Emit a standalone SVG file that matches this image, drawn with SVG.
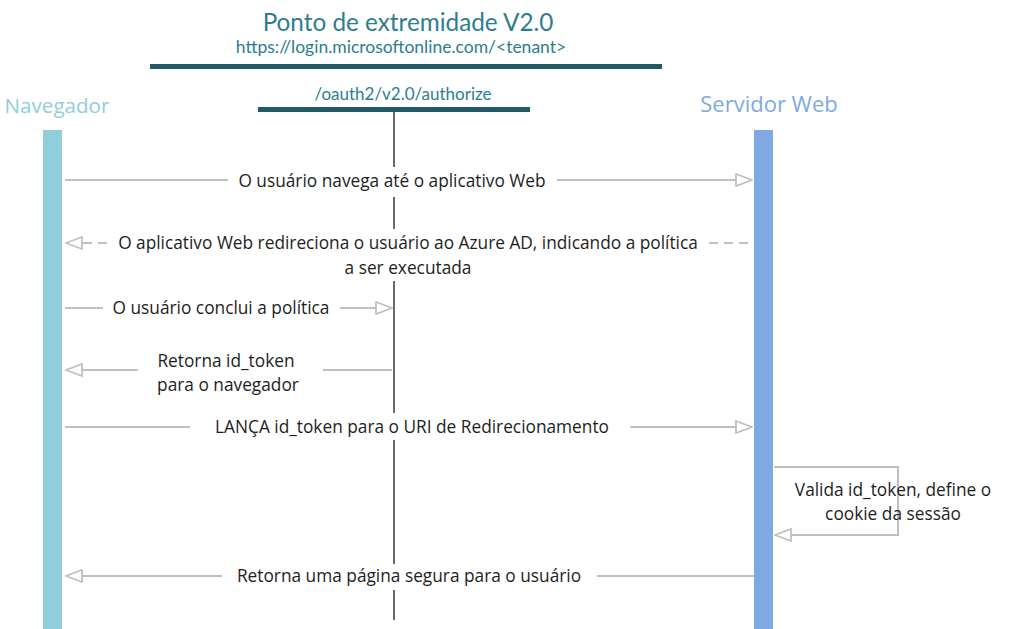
<svg xmlns="http://www.w3.org/2000/svg" width="1011" height="629" viewBox="0 0 1011 629">
<defs>
<style>
.t{font-family:"Open Sans","Noto Sans",sans-serif;font-size:17.3px;fill:#1e1e1e;text-anchor:middle}
.h{font-family:"Lato","Open Sans",sans-serif;fill:#2E7D8F;text-anchor:middle}
.c{stroke:#c0c0c0;stroke-width:2;fill:none}
.d{stroke:#c0c0c0;stroke-width:2;fill:none;stroke-dasharray:9 6}
.v{stroke:#1a1a1a;stroke-width:1.3;fill:none}
</style>
<marker id="ah" viewBox="0 0 18 14" refX="17" refY="7" markerWidth="18" markerHeight="14" markerUnits="userSpaceOnUse" orient="auto">
<path d="M1,1 L17,7 L1,13 Z" fill="#fff" stroke="#c0c0c0" stroke-width="1.8"/>
</marker>
</defs>
<rect width="1011" height="629" fill="#fff"/>
<g id="endpoint">
<text class="h" x="408" y="31" font-size="24.3">Ponto de extremidade V2.0</text>
<text class="h" x="401" y="53" font-size="17.5">https://login.microsoftonline.com/&lt;tenant&gt;</text>
<rect x="150" y="64" width="512" height="5" fill="#215967"/>
<text class="h" x="403" y="100" font-size="17">/oauth2/v2.0/authorize</text>
<rect x="258" y="107" width="272" height="5" fill="#215967"/>
<path class="v" d="M394,112 V167 M394,197 V229 M394,281 V413 M394,440 V564 M394,590 V620"/>
</g>
<g id="navegador">
<text x="57" y="113" font-family="Open Sans, sans-serif" font-size="20.6" fill="#92CDDC" text-anchor="middle">Navegador</text>
<rect x="43" y="130" width="19" height="499" fill="#92CDDC"/>
</g>
<g id="servidor">
<text x="769" y="112" font-family="Open Sans, sans-serif" font-size="22" fill="#7FA9E3" text-anchor="middle">Servidor Web</text>
<rect x="754" y="130" width="19" height="499" fill="#7FA9E3"/>
</g>
<g id="connectors">
<path class="c" d="M65,180 H228"/>
<path class="c" d="M557,180 H752" marker-end="url(#ah)"/>
<path class="d" d="M748,243 H704"/>
<path class="d" d="M107,243 H66" marker-end="url(#ah)"/>
<path class="c" d="M65,308 H103"/>
<path class="c" d="M340,308 H392" marker-end="url(#ah)"/>
<path class="c" d="M392,370 H323"/>
<path class="c" d="M138,370 H66" marker-end="url(#ah)"/>
<path class="c" d="M65,427 H190"/>
<path class="c" d="M630,427 H752" marker-end="url(#ah)"/>
<path class="c" d="M774,467 H898 V535 H775" marker-end="url(#ah)"/>
<path class="c" d="M754,576 H597"/>
<path class="c" d="M222,576 H66" marker-end="url(#ah)"/>
</g>
<g id="labels">
<text class="t" x="392" y="187">O usuário navega até o aplicativo Web</text>
<text class="t" x="408" y="249">O aplicativo Web redireciona o usuário ao Azure AD, indicando a política</text>
<text class="t" x="408" y="274">a ser executada</text>
<text class="t" x="221" y="314">O usuário conclui a política</text>
<text class="t" x="226" y="367">Retorna id_token</text>
<text class="t" x="228" y="391">para o navegador</text>
<text class="t" x="412" y="433">LANÇA id_token para o URI de Redirecionamento</text>
<text class="t" x="893" y="496">Valida id_token, define o</text>
<text class="t" x="893" y="520">cookie da sessão</text>
<text class="t" x="409" y="582">Retorna uma página segura para o usuário</text>
</g>
</svg>
